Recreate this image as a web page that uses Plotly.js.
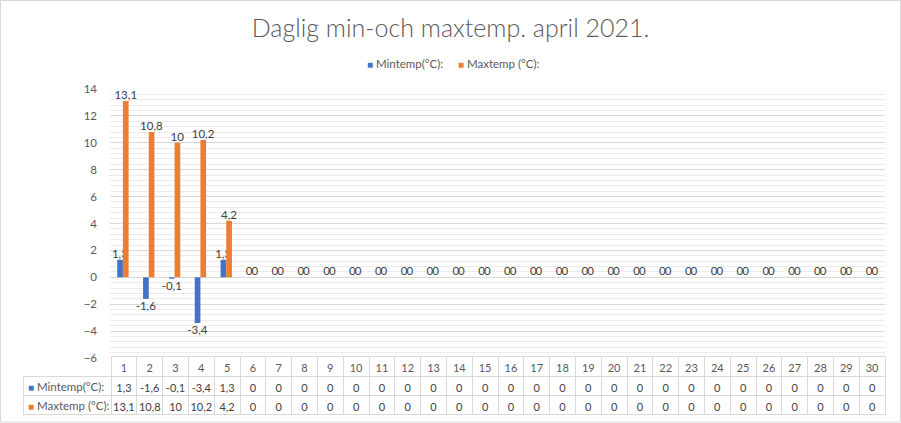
<!DOCTYPE html>
<html>
<head>
<meta charset="utf-8">
<script src="https://cdn.plot.ly/plotly-3.0.1.min.js"></script>
<style>
  html, body { margin: 0; padding: 0; background: #fff; }
  #graph { width: 901px; height: 423px; }
</style>
</head>
<body>
<div id="graph"></div>
<script>
// days of april
const days = ['1','2','3','4','5','6','7','8','9','10','11','12','13','14','15',
              '16','17','18','19','20','21','22','23','24','25','26','27','28','29','30'];
const minTemp = [1.3, -1.6, -0.1, -3.4, 1.3, 0, 0, 0, 0, 0, 0, 0, 0, 0, 0,
                 0, 0, 0, 0, 0, 0, 0, 0, 0, 0, 0, 0, 0, 0, 0];
const maxTemp = [13.1, 10.8, 10, 10.2, 4.2, 0, 0, 0, 0, 0, 0, 0, 0, 0, 0,
                 0, 0, 0, 0, 0, 0, 0, 0, 0, 0, 0, 0, 0, 0, 0];
const minName = 'Mintemp(°C):';
const maxName = 'Maxtemp (°C):';
const chartTitle = 'Daglig min-och maxtemp. april 2021.';

const W = 901, H = 423;
const font = 'Lato, "Open Sans", sans-serif';
const blue = '#4472C4';
const orange = '#ED7D31';
const clear = 'rgba(0,0,0,0)';

// swedish decimal comma
function sv(v) {
    return String(v).replace('.', ',');
}

function px(x) { return x / W; }
function py(y) { return 1 - y / H; }

// coloured square + name, used for the legend and the table rows
function keyLabel(color, name) {
    return '<span style="color:' + color + ';font-size:10px">■</span> ' + name;
}

function paperText(x, y, text) {
    return {
        xref: 'paper', yref: 'paper',
        x: px(x), y: py(y),
        xanchor: 'left', yanchor: 'middle',
        text: text,
        showarrow: false,
        font: { family: font, size: 11.5, color: '#595959' },
    };
}

function initPlot() {
    const barText = { family: font, size: 11.5, color: '#404040' };

    const traces = [
        {
            type: 'bar',
            name: minName,
            x: days,
            y: minTemp,
            text: minTemp.map(sv),
            textposition: 'outside',
            textfont: barText,
            constraintext: 'none',
            cliponaxis: false,
            marker: { color: blue },
            hoverinfo: 'skip',
        },
        {
            type: 'bar',
            name: maxName,
            x: days,
            y: maxTemp,
            text: maxTemp.map(sv),
            textposition: 'outside',
            textfont: barText,
            constraintext: 'none',
            cliponaxis: false,
            marker: { color: orange },
            hoverinfo: 'skip',
        },
        {
            // data table under the chart
            type: 'table',
            domain: { x: [px(23), px(885)], y: [py(416), py(356)] },
            columnwidth: [88].concat(days.map(() => 25.8)),
            header: {
                values: [''].concat(days),
                height: 20,
                align: 'center',
                line: { color: [clear].concat(days.map(() => '#d9d9d9')), width: 1 },
                fill: { color: clear },
                font: { family: font, size: 11, color: '#595959' },
            },
            cells: {
                values: [['', '']].concat(days.map((d, i) => [sv(minTemp[i]), sv(maxTemp[i])])),
                height: 19,
                align: 'center',
                line: { color: '#d9d9d9', width: 1 },
                fill: { color: clear },
                font: { family: font, size: 11, color: '#404040' },
            },
        },
    ];

    const layout = {
        width: W,
        height: H,
        margin: { l: 0, r: 0, t: 0, b: 0 },
        paper_bgcolor: '#ffffff',
        plot_bgcolor: '#ffffff',
        separators: ', ',
        font: { family: font, size: 11, color: '#595959' },
        showlegend: false,
        barmode: 'group',
        bargap: 0.56,
        bargroupgap: 0,
        title: {
            text: chartTitle,
            x: 0.5,
            xanchor: 'center',
            y: py(28),
            yanchor: 'middle',
            font: { family: font, size: 25, weight: 300, color: '#595959' },
        },
        xaxis: {
            domain: [px(110), px(885)],
            showticklabels: false,
            showgrid: false,
            zeroline: false,
            showline: false,
            ticks: '',
            fixedrange: true,
        },
        yaxis: {
            domain: [py(358), py(89)],
            range: [-6, 14],
            dtick: 2,
            tick0: 0,
            showgrid: true,
            gridcolor: '#d9d9d9',
            gridwidth: 1,
            minor: { dtick: 0.4, showgrid: true, gridcolor: '#ececec', gridwidth: 1 },
            zeroline: true,
            zerolinecolor: '#d9d9d9',
            zerolinewidth: 1,
            showline: false,
            ticks: '',
            ticklabelstandoff: 12,
            tickfont: { family: font, size: 11.5, color: '#595959' },
            fixedrange: true,
        },
        annotations: [
            // legend
            paperText(365, 63, keyLabel(blue, minName)),
            paperText(456, 63, keyLabel(orange, maxName)),
            // table row labels
            paperText(26, 386, keyLabel(blue, minName)),
            paperText(26, 405, keyLabel(orange, maxName)),
        ],
        shapes: [
            {
                // chart border
                type: 'rect', xref: 'paper', yref: 'paper',
                x0: px(0.5), x1: px(900.5), y0: py(422), y1: py(0.5),
                line: { color: '#d9d9d9', width: 1 },
            },
        ],
    };

    const config = {
        displayModeBar: false,
        staticPlot: true,
    };

    Plotly.newPlot('graph', traces, layout, config);
}

document.addEventListener('DOMContentLoaded', () => {
    initPlot();
});
</script>
</body>
</html>
